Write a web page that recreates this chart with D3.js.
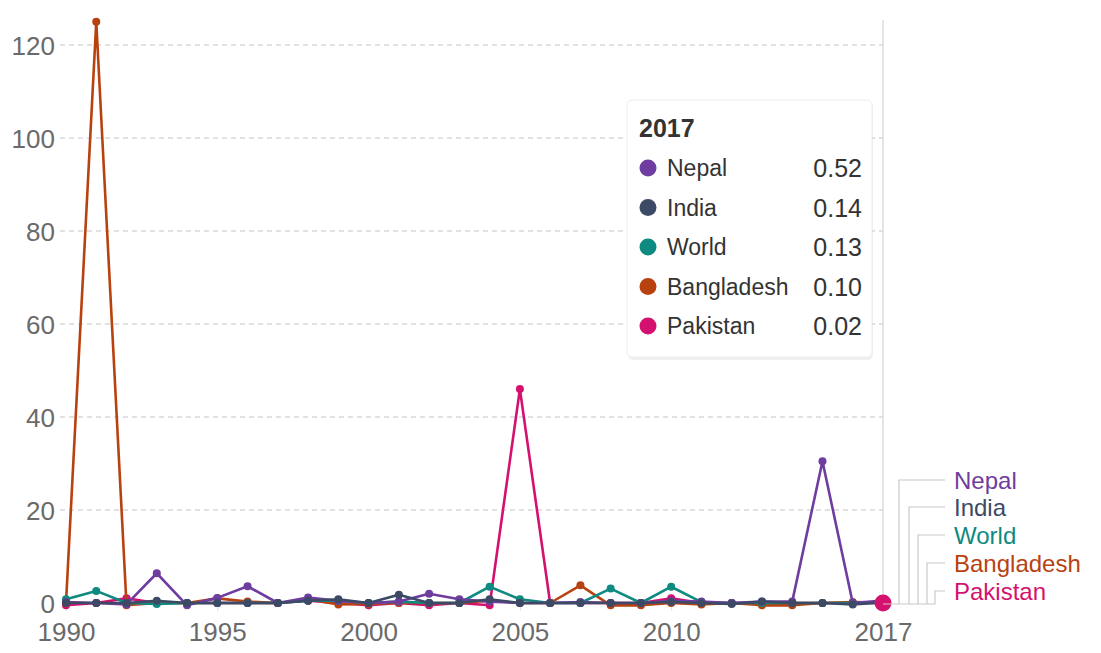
<!DOCTYPE html>
<html>
<head>
<meta charset="utf-8">
<script src="https://cdn.jsdelivr.net/npm/d3@7/dist/d3.min.js"></script>
<style>
  body { margin: 0; background: #fff; font-family: "Liberation Sans", Arial, sans-serif; }
  svg { display: block; }
</style>
</head>
<body>
<svg id="chart" width="1101" height="653"></svg>
<script>
const years = [1990, 1991, 1992, 1993, 1994, 1995, 1996, 1997, 1998, 1999,
  2000, 2001, 2002, 2003, 2004, 2005, 2006, 2007, 2008, 2009,
  2010, 2011, 2012, 2013, 2014, 2015, 2016, 2017];

const nepal = [0.2, 0, -0.3, 6.4, -0.5, 1.1, 3.6, 0, 1.2, 0.5,
  0, 0.3, 2.0, 0.8, 0.3, 0, 0, 0.2, 0, 0,
  0.5, 0.3, 0, 0.3, 0.3, 30.5, 0, 0.52];
const india = [0, 0, 0, 0.5, 0, 0, 0, 0, 0.5, 0.8,
  0, 1.8, 0, 0, 0.8, 0, 0, 0, 0, 0,
  0.2, 0, -0.2, 0.3, 0, 0, -0.3, 0.14];
const world = [0.8, 2.6, 0, -0.2, 0, 0, 0, 0, 0.5, 0.5,
  0, 0.3, 0, 0, 3.5, 0.8, 0, 0, 3.1, 0,
  3.5, 0.2, 0, 0, 0, 0, 0, 0.13];
const bangladesh = [0, 125, -0.5, 0, 0, 1, 0.3, 0, 0.8, -0.3,
  -0.2, 0, 0, 0, 0.5, 0, 0, 3.8, -0.5, -0.5,
  0, -0.3, 0, -0.5, -0.5, 0, 0.2, 0.10];
const pakistan = [-0.5, 0, 1, 0, 0, 0, 0, 0, 0.5, 0,
  -0.5, 0, -0.5, 0, -0.5, 46, 0, 0, 0, 0,
  1, 0, 0, 0, 0, 0, 0, 0.02];

const seriesNames = ['Nepal', 'India', 'World', 'Bangladesh', 'Pakistan'];
const seriesColors = ['#6f3ca0', '#3c4a66', '#0f8a80', '#b8420f', '#d4116e'];
const seriesValues = [nepal, india, world, bangladesh, pakistan];
const yTicks = [0, 20, 40, 60, 80, 100, 120];
const xTicks = [1990, 1995, 2000, 2005, 2010, 2017];

const series = seriesNames.map((name, i) => ({
  name,
  color: seriesColors[i],
  values: years.map((y, j) => ({ year: y, value: seriesValues[i][j] }))
}));

const svg = d3.select('#chart');

const x = d3.scaleLinear().domain([1990, 2017]).range([66, 883]);
const y = d3.scaleLinear().domain([0, 120]).range([603, 45]);

// grid lines
svg.append('g')
  .selectAll('line')
  .data(yTicks.filter(d => d > 0))
  .join('line')
  .attr('x1', 60)
  .attr('x2', 883)
  .attr('y1', d => y(d))
  .attr('y2', d => y(d))
  .attr('stroke', '#d8d8d8')
  .attr('stroke-width', 1.3)
  .attr('stroke-dasharray', '5,4');

// y axis labels
const yAxis = d3.axisLeft(y).tickValues(yTicks).tickSize(0).tickPadding(0);
svg.append('g')
  .attr('transform', 'translate(55,0)')
  .call(yAxis)
  .call(g => g.select('.domain').remove())
  .call(g => g.selectAll('text')
    .attr('font-family', '"Liberation Sans", Arial, sans-serif')
    .attr('font-size', 26)
    .attr('fill', '#6a6a6a')
    .attr('dy', '0.36em'));

// x axis
const xAxis = d3.axisBottom(x).tickValues(xTicks).tickFormat(d3.format('d')).tickSize(7).tickPadding(12);
svg.append('g')
  .attr('transform', 'translate(0,604)')
  .call(xAxis)
  .call(g => g.select('.domain').remove())
  .call(g => g.selectAll('line').attr('stroke', '#ddd'))
  .call(g => g.selectAll('text')
    .attr('font-family', '"Liberation Sans", Arial, sans-serif')
    .attr('font-size', 26)
    .attr('fill', '#6a6a6a'));

// hover line at last year
svg.append('line')
  .attr('x1', x(2017)).attr('x2', x(2017))
  .attr('y1', 20).attr('y2', 604)
  .attr('stroke', '#ddd')
  .attr('stroke-width', 1.5);

// lines
const line = d3.line().x(d => x(d.year)).y(d => y(d.value));
const drawOrder = [4, 3, 2, 0, 1];
const lineG = svg.append('g');
drawOrder.forEach(i => {
  const s = series[i];
  lineG.append('path')
    .datum(s.values)
    .attr('d', line)
    .attr('fill', 'none')
    .attr('stroke', s.color)
    .attr('stroke-width', 2.6)
    .attr('stroke-linejoin', 'round');
  lineG.append('g')
    .selectAll('circle')
    .data(s.values)
    .join('circle')
    .attr('cx', d => x(d.year))
    .attr('cy', d => y(d.value))
    .attr('r', 4)
    .attr('fill', s.color);
});

// highlighted point at 2017
svg.append('circle')
  .attr('cx', x(2017))
  .attr('cy', y(pakistan[pakistan.length - 1]))
  .attr('r', 8.5)
  .attr('fill', seriesColors[4]);

// end labels with connectors
const labelY = [480, 507, 535, 563, 591];
const elbowX = [899, 909, 918, 927, 935];
const connG = svg.append('g');
connG.append('line')
  .attr('x1', x(2017)).attr('x2', 935)
  .attr('y1', 604).attr('y2', 604)
  .attr('stroke', '#c8c8c8').attr('stroke-width', 1.2);
series.forEach((s, i) => {
  connG.append('path')
    .attr('d', `M${elbowX[i]},604V${labelY[i]}H945`)
    .attr('fill', 'none')
    .attr('stroke', '#c8c8c8')
    .attr('stroke-width', 1.2);
  svg.append('text')
    .attr('x', 954)
    .attr('y', labelY[i])
    .attr('dy', '0.36em')
    .attr('font-size', 24)
    .attr('fill', s.color)
    .text(s.name);
});

// tooltip legend
const tip = svg.append('g').attr('transform', 'translate(627,100)');
tip.append('rect')
  .attr('x', 1).attr('y', 2)
  .attr('width', 245).attr('height', 258)
  .attr('rx', 5)
  .attr('fill', '#000')
  .attr('opacity', 0.06);
tip.append('rect')
  .attr('width', 245).attr('height', 257)
  .attr('rx', 5)
  .attr('fill', '#fff')
  .attr('stroke', '#ececec');
tip.append('text')
  .attr('x', 12).attr('y', 37)
  .attr('font-size', 25)
  .attr('font-weight', 'bold')
  .attr('fill', '#333')
  .text('2017');
series.forEach((s, i) => {
  const ry = 68 + i * 39.5;
  tip.append('circle')
    .attr('cx', 21).attr('cy', ry)
    .attr('r', 8.5)
    .attr('fill', s.color);
  tip.append('text')
    .attr('x', 40).attr('y', ry)
    .attr('dy', '0.36em')
    .attr('font-size', 23)
    .attr('fill', '#333')
    .text(s.name);
  tip.append('text')
    .attr('x', 235).attr('y', ry)
    .attr('dy', '0.36em')
    .attr('text-anchor', 'end')
    .attr('font-size', 25)
    .attr('fill', '#333')
    .text(s.values[s.values.length - 1].value.toFixed(2));
});
</script>
</body>
</html>
